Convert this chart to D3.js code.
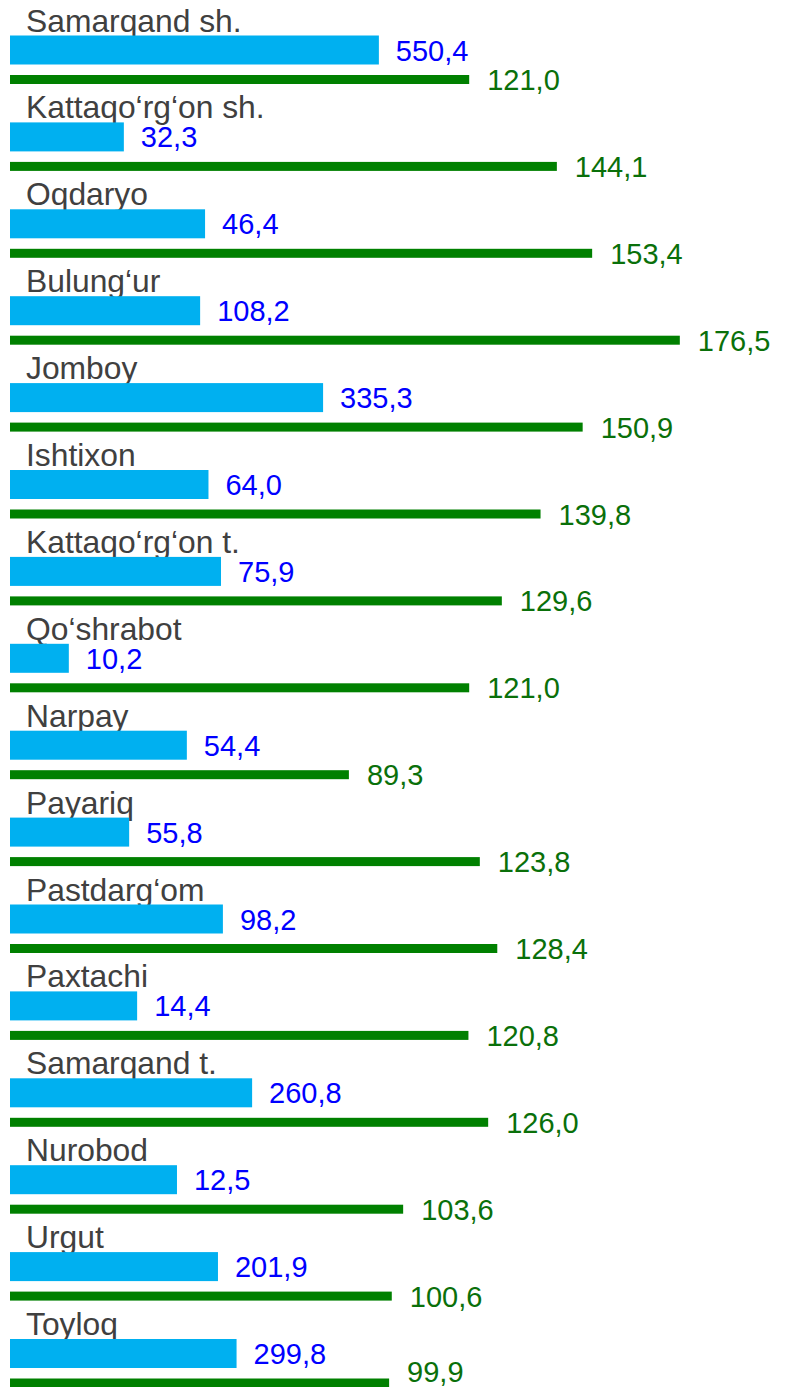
<!DOCTYPE html>
<html>
<head>
<meta charset="utf-8">
<script src="https://cdn.jsdelivr.net/npm/d3@7"></script>
<style>
  html, body { margin: 0; padding: 0; background: #ffffff; }
  svg { display: block; }
</style>
</head>
<body>
<script>
// Districts of Samarqand region
const categories = [
  "Samarqand sh.", "Kattaqo‘rg‘on sh.", "Oqdaryo", "Bulung‘ur", "Jomboy",
  "Ishtixon", "Kattaqo‘rg‘on t.", "Qo‘shrabot", "Narpay", "Payariq",
  "Pastdarg‘om", "Paxtachi", "Samarqand t.", "Nurobod", "Urgut", "Toyloq"
];

// Blue series: bar lengths and the figures printed beside them
const blueValues = [97.2, 30.0, 51.4, 50.1, 82.5, 52.3, 55.6, 15.5, 46.6, 31.4, 56.1, 33.5, 63.8, 44.0, 54.8, 59.7];
const blueLabels = [550.4, 32.3, 46.4, 108.2, 335.3, 64.0, 75.9, 10.2, 54.4, 55.8, 98.2, 14.4, 260.8, 12.5, 201.9, 299.8];

// Green series
const greenValues = [121.0, 144.1, 153.4, 176.5, 150.9, 139.8, 129.6, 121.0, 89.3, 123.8, 128.4, 120.8, 126.0, 103.6, 100.6, 99.9];

const W = 788, H = 1387;

const svg = d3.select("body").append("svg")
  .attr("width", W)
  .attr("height", H);

const x = d3.scaleLinear().domain([0, 200]).range([10, 10 + 200 * 3.795]);
const y = d3.scaleBand().domain(categories).range([0, 86.9 * categories.length]).paddingInner(0);

const fmt = d3.formatLocale({ decimal: ",", thousands: " ", grouping: [3], currency: ["", ""] }).format(".1f");

const rows = categories.map((c, i) => ({
  name: c,
  blue: blueValues[i],
  blueLabel: blueLabels[i],
  green: greenValues[i]
}));

const g = svg.selectAll("g.row").data(rows).join("g")
  .attr("class", "row")
  .attr("transform", d => `translate(0,${y(d.name)})`);

// category name
g.append("text")
  .attr("x", 26)
  .attr("y", 31.5)
  .attr("fill", "#404040")
  .style("font-family", "'Liberation Sans', Arial, sans-serif")
  .style("font-size", "31.8px")
  .text(d => d.name);

// blue bar
g.append("rect")
  .attr("x", x(0))
  .attr("y", 35.5)
  .attr("width", d => x(d.blue) - x(0))
  .attr("height", 29)
  .attr("fill", "#00B0F0");

g.append("text")
  .attr("x", d => x(d.blue) + 17)
  .attr("y", 60.5)
  .attr("fill", "#0000FF")
  .style("font-family", "'Liberation Sans', Arial, sans-serif")
  .style("font-size", "29px")
  .text(d => fmt(d.blueLabel));

// green bar
g.append("rect")
  .attr("x", x(0))
  .attr("y", 75)
  .attr("width", d => x(d.green) - x(0))
  .attr("height", 9)
  .attr("fill", "#008000");

// green value, pulled up where it would run off the bottom edge
g.append("text")
  .attr("x", d => x(d.green) + 18)
  .attr("y", d => Math.min(90, H - 5 - y(d.name)))
  .attr("fill", "#0A700A")
  .style("font-family", "'Liberation Sans', Arial, sans-serif")
  .style("font-size", "29px")
  .text(d => fmt(d.green));
</script>
</body>
</html>
